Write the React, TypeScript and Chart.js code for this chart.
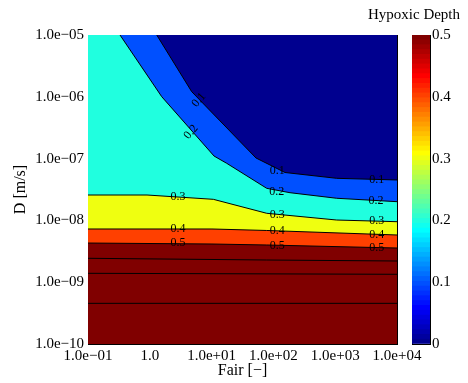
import React, { useEffect, useRef } from 'react';
import { Chart, registerables } from 'chart.js';

Chart.register(...registerables);

const FONT = 'Liberation Serif';

// ---- axes ----
const xTickValues = [1e-1, 1, 1e1, 1e2, 1e3, 1e4];
const xTickLabels = ['1.0e\u221201', '1.0', '1.0e+01', '1.0e+02', '1.0e+03', '1.0e+04'];
const yTickValues = [1e-10, 1e-9, 1e-8, 1e-7, 1e-6, 1e-5];
const yTickLabels = ['1.0e\u221210', '1.0e\u221209', '1.0e\u221208', '1.0e\u221207', '1.0e\u221206', '1.0e\u221205'];
const xTitle = 'Fair [\u2212]';
const yTitle = 'D [m/s]';
const cbTitle = 'Hypoxic Depth';
const cbTickValues = [0, 0.1, 0.2, 0.3, 0.4, 0.5];
const cbTickLabels = ['0', '0.1', '0.2', '0.3', '0.4', '0.5'];

// ---- contour lines (log10 of Fair, log10 of D) ----
const c01LogFair = [0.112, 0.678, 1.718, 2.188, 3.024, 4];
const c01LogD = [-5, -5.917, -6.99, -7.225, -7.319, -7.346];
const c02LogFair = [-0.482, 0.193, 1.039, 1.244, 1.892, 2.269, 3.024, 4];
const c02LogD = [-5, -5.998, -6.958, -7.076, -7.481, -7.552, -7.642, -7.697];
const c03LogFair = [-1, -0.045, 1.028, 1.892, 3.024, 4];
const c03LogD = [-7.589, -7.589, -7.659, -7.885, -7.994, -8.021];
const c04LogFair = [-1, 1.006, 1.892, 4];
const c04LogD = [-8.139, -8.139, -8.163, -8.236];
const c05LogFair = [-1, 1.006, 1.892, 4];
const c05LogD = [-8.366, -8.382, -8.398, -8.447];
const c06LogFair = [-1, 1.892, 4];
const c06LogD = [-8.613, -8.641, -8.657];
const c07LogFair = [-1, 4];
const c07LogD = [-8.856, -8.872];
const c08LogFair = [-1, 4];
const c08LogD = [-9.342, -9.342];

// region colours (value band above each contour)
const regionColors = ['#00008F', '#0050FF', '#20FFDF', '#EFFF10', '#FF4000', '#800000'];

// ---- contour labels ----
const labelText = ['0.1', '0.1', '0.1', '0.2', '0.2', '0.2', '0.3', '0.3', '0.3', '0.4', '0.4', '0.4', '0.5', '0.5', '0.5'];
const labelLogFair = [0.796, 2.063, 3.671, 0.667, 2.053, 3.66, 0.456, 2.063, 3.671, 0.456, 2.063, 3.671, 0.456, 2.063, 3.671];
const labelLogD = [-6.052, -7.196, -7.346, -6.57, -7.536, -7.681, -7.617, -7.913, -8.01, -8.139, -8.172, -8.236, -8.371, -8.414, -8.442];
const labelAngle = [-50, 0, 0, -50, 0, 0, 0, 0, 0, 0, 0, 0, 0, 0, 0];

const pts = (lx: number[], ly: number[]) => lx.map((v, i) => ({ x: 10 ** v, y: 10 ** ly[i] }));

function jet(j: number) {
  const c = (v: number) => Math.max(0, Math.min(1, v));
  const r = c(Math.min((j - 24) / 16, (72 - j) / 16));
  const g = c(Math.min((j - 8) / 16, (56 - j) / 16));
  const b = c(Math.min((j + 8) / 16, (40 - j) / 16));
  return `rgb(${Math.round(r * 255)},${Math.round(g * 255)},${Math.round(b * 255)})`;
}

const contourLabelPlugin = {
  id: 'contourLabels',
  afterDatasetsDraw(chart: any) {
    const { ctx } = chart;
    const xs = chart.scales.x;
    const ys = chart.scales.y;
    ctx.save();
    ctx.font = `12px "${FONT}"`;
    ctx.fillStyle = '#000';
    ctx.textAlign = 'center';
    ctx.textBaseline = 'middle';
    labelText.forEach((t, i) => {
      const px = xs.getPixelForValue(10 ** labelLogFair[i]);
      const py = ys.getPixelForValue(10 ** labelLogD[i]);
      ctx.save();
      ctx.translate(px, py);
      ctx.rotate((labelAngle[i] * Math.PI) / 180);
      ctx.fillText(t, 0, 0);
      ctx.restore();
    });
    ctx.restore();
  },
};

const tickFont = { family: FONT, size: 15 };
const titleFont = { family: FONT, size: 16 };

export default function App() {
  const mainRef = useRef<HTMLCanvasElement>(null);
  const cbRef = useRef<HTMLCanvasElement>(null);

  useEffect(() => {
    const lineDs = (lx: number[], ly: number[], fillColor: string | null) => ({
      data: pts(lx, ly),
      borderColor: '#000',
      borderWidth: 1,
      backgroundColor: fillColor || 'transparent',
      fill: fillColor ? 'end' : false,
      pointRadius: 0,
      tension: 0,
      xAxisID: 'x',
      yAxisID: 'y',
    });

    const datasets: any[] = [
      lineDs(c01LogFair, c01LogD, regionColors[0]),
      lineDs(c02LogFair, c02LogD, regionColors[1]),
      lineDs(c03LogFair, c03LogD, regionColors[2]),
      lineDs(c04LogFair, c04LogD, regionColors[3]),
      lineDs(c05LogFair, c05LogD, regionColors[4]),
      lineDs(c06LogFair, c06LogD, null),
      lineDs(c07LogFair, c07LogD, null),
      lineDs(c08LogFair, c08LogD, null),
      {
        data: [{ x: 1e-1, y: 1e-10 }, { x: 1e4, y: 1e-10 }],
        borderWidth: 0,
        borderColor: 'transparent',
        backgroundColor: regionColors[5],
        fill: 'end',
        pointRadius: 0,
        xAxisID: 'x',
        yAxisID: 'y',
      },
    ];

    const gridIn = { drawOnChartArea: false, drawTicks: true, tickLength: -4, color: '#000', lineWidth: 1 };
    const border = { display: true, color: '#000', width: 1 };

    const main = new Chart(mainRef.current!, {
      type: 'line',
      data: { datasets },
      options: {
        responsive: false,
        animation: false,
        devicePixelRatio: 1,
        events: [],
        layout: { padding: { left: 0, right: 71, top: 35, bottom: 0 } },
        plugins: { legend: { display: false }, tooltip: { enabled: false } },
        scales: {
          x: {
            type: 'logarithmic',
            position: 'bottom',
            min: 1e-1,
            max: 1e4,
            z: 1,
            afterBuildTicks: (s: any) => { s.ticks = xTickValues.map((v) => ({ value: v })); },
            afterFit: (s: any) => { s.height = 39; },
            ticks: {
              autoSkip: false,
              maxRotation: 0,
              minRotation: 0,
              padding: 7,
              color: '#000',
              font: tickFont,
              callback: (_v: any, i: number) => xTickLabels[i],
            },
            grid: gridIn,
            border,
            title: { display: true, text: xTitle, color: '#000', font: titleFont, padding: { top: 0, bottom: 3 } },
          },
          x2: {
            type: 'logarithmic',
            position: 'top',
            min: 1e-1,
            max: 1e4,
            z: 1,
            afterBuildTicks: (s: any) => { s.ticks = xTickValues.map((v) => ({ value: v })); },
            afterFit: (s: any) => { s.height = 0; },
            ticks: { display: false },
            grid: gridIn,
            border,
          },
          y: {
            type: 'logarithmic',
            position: 'left',
            min: 1e-10,
            max: 1e-5,
            z: 1,
            afterBuildTicks: (s: any) => { s.ticks = yTickValues.map((v) => ({ value: v })); },
            afterFit: (s: any) => { s.width = 88; },
            ticks: {
              autoSkip: false,
              padding: 8,
              color: '#000',
              font: tickFont,
              callback: (_v: any, i: number) => yTickLabels[i],
            },
            grid: gridIn,
            border,
            title: { display: true, text: yTitle, color: '#000', font: titleFont, padding: { top: 11, bottom: 0 } },
          },
          y2: {
            type: 'logarithmic',
            position: 'right',
            min: 1e-10,
            max: 1e-5,
            z: 1,
            afterBuildTicks: (s: any) => { s.ticks = yTickValues.map((v) => ({ value: v })); },
            afterFit: (s: any) => { s.width = 0; },
            ticks: { display: false },
            grid: gridIn,
            border,
          },
        },
      },
      plugins: [contourLabelPlugin],
    } as any);

    const step = 0.5 / 64;
    const cbDatasets = Array.from({ length: 64 }, (_, i) => ({
      data: [[i === 0 ? 0 : (i - 0.5) * step, (i + 1) * step]],
      backgroundColor: jet(i + 1),
      borderWidth: 0,
      barPercentage: 1,
      categoryPercentage: 1,
      grouped: false,
      xAxisID: 'x',
      yAxisID: 'y',
    }));

    const cbGrid = { drawOnChartArea: false, drawTicks: true, tickLength: -3, color: '#000', lineWidth: 1 };

    const cb = new Chart(cbRef.current!, {
      type: 'bar',
      data: { labels: [''], datasets: cbDatasets },
      options: {
        responsive: false,
        animation: false,
        devicePixelRatio: 1,
        events: [],
        layout: { padding: 0 },
        plugins: {
          legend: { display: false },
          tooltip: { enabled: false },
          title: {
            display: true,
            text: cbTitle,
            color: '#000',
            font: { family: FONT, size: 15, weight: 'normal' },
            padding: { top: 6, bottom: 11 },
          },
        },
        scales: {
          x: {
            position: 'bottom',
            z: 1,
            afterFit: (s: any) => { s.height = 39; },
            ticks: { display: false },
            grid: { display: false },
            border,
          },
          xt: {
            type: 'category',
            labels: [''],
            position: 'top',
            z: 1,
            afterFit: (s: any) => { s.height = 0; },
            ticks: { display: false },
            grid: { display: false },
            border,
          },
          y: {
            type: 'linear',
            position: 'right',
            min: 0,
            max: 0.5,
            z: 1,
            afterBuildTicks: (s: any) => { s.ticks = cbTickValues.map((v) => ({ value: v })); },
            afterFit: (s: any) => { s.width = 38; },
            ticks: {
              padding: 5,
              color: '#000',
              font: tickFont,
              callback: (_v: any, i: number) => cbTickLabels[i],
            },
            grid: cbGrid,
            border,
          },
          yl: {
            type: 'linear',
            position: 'left',
            min: 0,
            max: 0.5,
            z: 1,
            afterBuildTicks: (s: any) => { s.ticks = cbTickValues.map((v) => ({ value: v })); },
            afterFit: (s: any) => { s.width = 52; },
            ticks: { display: false },
            grid: cbGrid,
            border,
          },
        },
      },
    } as any);

    return () => {
      main.destroy();
      cb.destroy();
    };
  }, []);

  return (
    <div style={{ position: 'absolute', left: 0, top: 0, width: 468, height: 383, background: '#fff' }}>
      <canvas
        ref={mainRef}
        width={468}
        height={383}
        style={{ position: 'absolute', left: 0, top: 0, width: 468, height: 383 }}
      />
      <canvas
        ref={cbRef}
        width={108}
        height={383}
        style={{ position: 'absolute', left: 360, top: 0, width: 108, height: 383 }}
      />
    </div>
  );
}
